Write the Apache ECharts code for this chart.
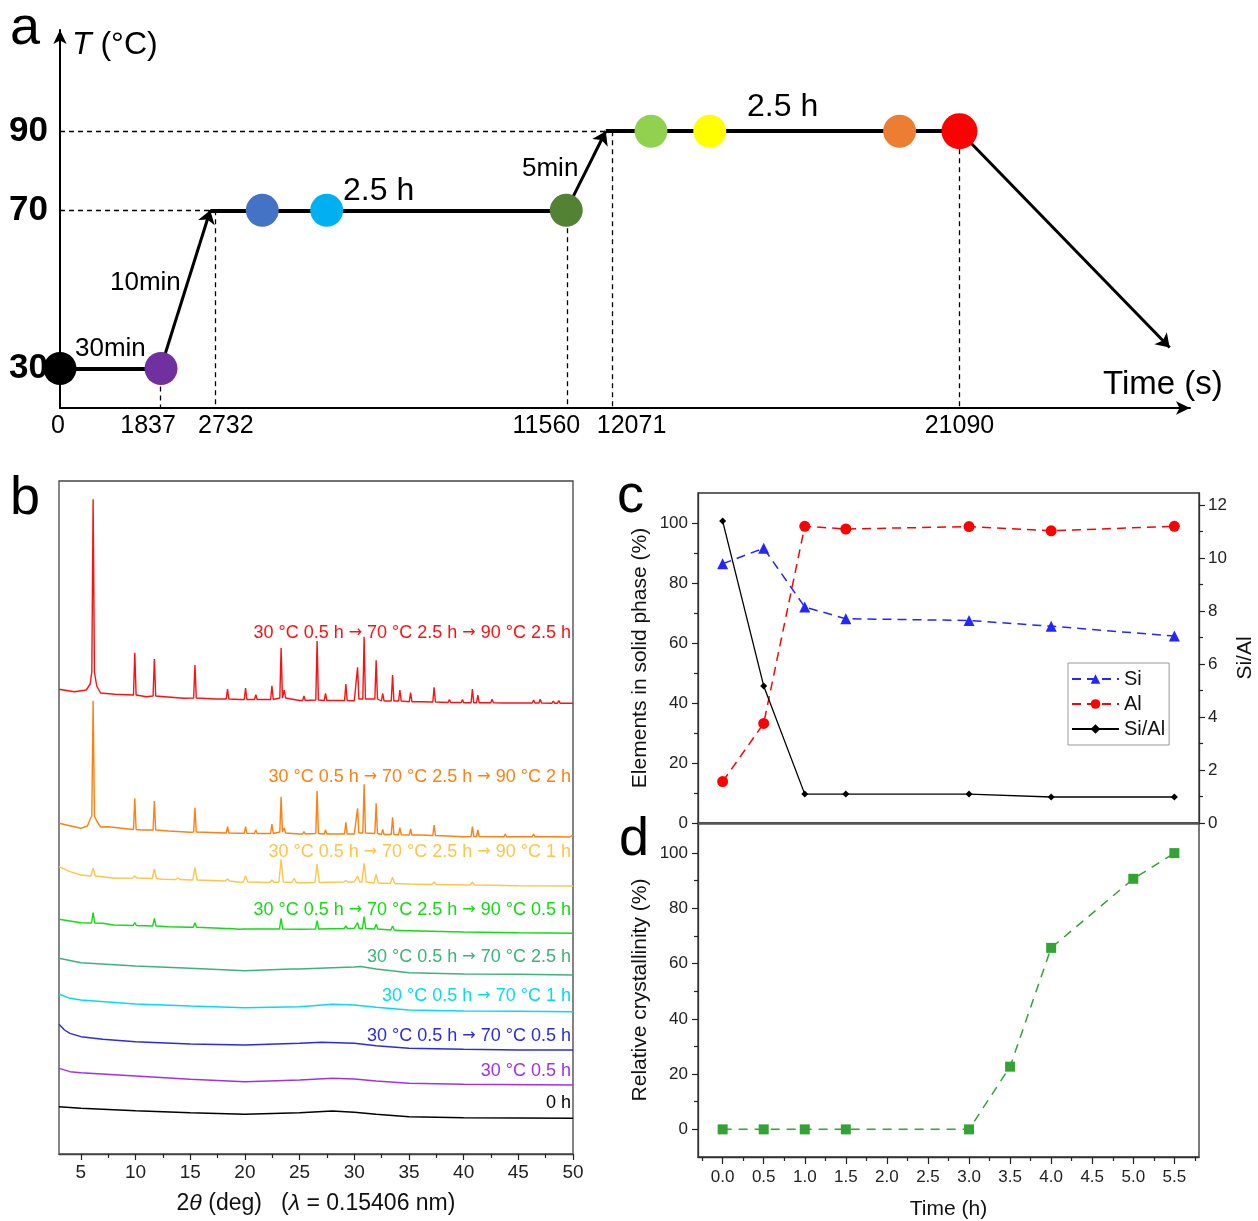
<!DOCTYPE html>
<html>
<head>
<meta charset="utf-8">
<title>Zeolite synthesis – temperature programme, XRD, composition, crystallinity</title>
<script src="https://cdn.jsdelivr.net/npm/echarts@6/dist/echarts.min.js"></script>
<style>
  html, body { margin: 0; padding: 0; background: #fff; }
  #chart { width: 1258px; height: 1221px; }
</style>
</head>
<body>
<div id="chart"></div>
<script>
// ---------- panel a: heating programme (time axis is drawn schematically, not to scale)
const timeTicks = [0, 1837, 2732, 11560, 12071, 21090];
const timeTickPos = [0, 8.9, 13.7, 44.9, 48.9, 79.6];
const timeTickTemp = [30, 30, 70, 70, 90, 90];
const tempLevels = [30, 70, 90];
const profile = [[0, 30], [8.9, 30], [13.3, 70], [44.8, 70], [48.3, 90], [79.6, 90], [98.2, 35.3]];
const sampleColors = ['#000000', '#7030A0', '#4472C4', '#00B0F0', '#548235', '#92D050', '#FFFF00', '#ED7D31', '#FF0000'];
const samplePos = [0, 8.94, 17.9, 23.6, 44.8, 52.3, 57.5, 74.3, 79.6];
const sampleTemp = [30, 30, 70, 70, 70, 90, 90, 90, 90];

// ---------- panel b: XRD patterns, [2theta, intensity a.u.] (stacked with offsets)
// peaks are [2theta, top, foot]
const redBase = [[3, 464.7], [4.4, 462.3], [5.5, 464], [5.85, 470], [6.45, 468], [6.8, 461], [8.1, 459.7], [11, 457.3], [14.4, 455.7], [17.4, 455], [19.5, 454.5], [23.8, 454.5], [25, 453.5], [30, 453.3], [36, 452.3], [40, 451.3], [45, 451], [50, 450.7]];
const redPeaks = [[6.12, 654.7, 482], [9.93, 501.3, 459], [11.72, 495, 458], [15.43, 489, 456], [18.41, 465, 455], [20.06, 466, 454.5], [21.0, 459.3, 454.5], [22.47, 468.3, 454.5], [23.31, 506, 456], [23.6, 464, 456], [25.4, 458, 453.5], [26.6, 513, 454], [27.37, 460.7, 453.5], [29.23, 470, 453.5], [30.3, 486.7, 455], [30.9, 517.3, 455], [32.0, 493.7, 455], [32.6, 460.7, 453], [33.5, 479, 453], [34.17, 464, 453], [35.15, 461.3, 452.3], [37.3, 466.7, 452], [38.7, 454.5, 451.5], [39.9, 454.5, 451.5], [40.8, 465, 451.3], [41.3, 459, 451.3], [42.6, 454.7, 451.2], [43.8, 453, 451], [46.4, 454, 451], [47.0, 454.7, 451], [48.2, 453, 450.8], [48.7, 453.3, 450.8]];
const orangeBase = [[3, 330.7], [5, 325.7], [5.6, 328], [5.85, 335], [6.45, 333], [6.8, 327], [7.5, 327.3], [10.6, 324], [13, 323], [15, 321.7], [19.5, 320.7], [25, 320], [30, 320], [36, 319], [40, 317.3], [49.7, 317], [50, 319]];
const orangePeaks = [[6.12, 453.3, 338], [9.93, 355.7, 324.5], [11.72, 353, 324], [15.43, 346.3, 322], [18.41, 327.3, 321], [20.06, 327.3, 320.7], [21.0, 324, 320.5], [22.47, 330, 320.5], [23.31, 357.3, 322], [23.6, 326, 321], [25.4, 322.3, 320], [26.6, 363, 320.5], [27.37, 324, 320], [29.23, 331.7, 320], [30.3, 345.7, 321], [30.9, 369.7, 321], [32.0, 350.7, 320.5], [32.6, 324.7, 319.5], [33.5, 336.7, 319.5], [34.17, 326.3, 319.3], [35.15, 325, 319], [37.3, 329, 318.5], [40.8, 327.3, 317.5], [41.3, 324, 317.5], [43.8, 320, 317.3], [46.4, 320, 317.3], [48.2, 319, 317.3]];
const yellowBase = [[3, 287.3], [4, 282.3], [5, 279], [7, 277.3], [8, 275.7], [12.4, 274.7], [15, 274], [19.5, 271.7], [25, 271.3], [30, 272], [35, 270], [40, 269], [45, 268.3], [50, 268]];
const yellowPeaks = [[6.12, 285.7, 278], [9.93, 278, 276], [11.72, 285, 275.5], [13.86, 276, 274.5], [15.43, 286.3, 274], [18.41, 275, 273], [20.06, 278, 272], [22.47, 274, 271.5], [23.31, 294.7, 272], [24.5, 275.7, 271.5], [26.6, 290, 271.5], [29.23, 273.5, 272], [30.3, 278, 272], [30.9, 290.7, 272], [32.0, 279.7, 271], [33.5, 276.7, 270.5], [37.3, 272, 269.5], [40.8, 272, 269]];
const greenBase = [[3, 234.7], [5, 231.3], [7, 230.7], [8, 229], [10.2, 228.3], [13, 227.3], [15, 226.7], [19.5, 224.7], [25, 224.7], [30, 225.7], [35, 223.3], [40, 222], [45, 221.3], [50, 220.7]];
const greenPeaks = [[6.12, 241.3, 231], [9.93, 231.3, 228.5], [11.72, 235.7, 228], [15.43, 231.3, 226.7], [18.41, 227, 225.5], [20.06, 227, 225], [22.47, 226.5, 225], [23.31, 235.7, 225], [26.6, 233.3, 225], [29.23, 228, 225.5], [30.3, 231.3, 225.5], [30.9, 237.3, 225.5], [32.0, 229.7, 225], [33.5, 228, 224], [34.17, 225, 223.5]];
const tealPattern = [[3, 195.7], [5, 191.3], [10, 188], [15, 185.7], [20, 183.3], [24.2, 185], [25, 185], [28, 186.3], [30, 187], [30.6, 187.5], [32, 185], [35, 181.3], [40, 180], [45, 179.7], [50, 179]];
const cyanPattern = [[3, 160], [4, 155.7], [5, 154], [10, 150], [15, 148], [20, 146.3], [25, 147.3], [28, 149.7], [30, 149], [32, 146.7], [35, 144], [40, 143], [45, 142.7], [50, 142.3]];
const bluePattern = [[3, 129.7], [3.5, 124], [4, 120.7], [5, 117.3], [7, 114.7], [10, 112.3], [15, 110], [20, 109], [25, 110.7], [27, 111.7], [30, 110.7], [32, 108.3], [35, 105.7], [40, 104.7], [45, 104], [50, 104]];
const purplePattern = [[3, 85.7], [4, 82.3], [5, 81.3], [10, 78], [15, 74.7], [20, 72.3], [25, 74], [28, 75.7], [30, 75], [32, 73], [35, 70.7], [40, 69.7], [50, 69]];
const blackPattern = [[3, 47.3], [5, 45.7], [10, 43.3], [15, 41.3], [20, 39.7], [25, 41.3], [28, 43], [30, 41.7], [32, 39.7], [35, 37.3], [40, 36.3], [50, 35.7]];
const xrdLabels = ['0 h', '30 °C 0.5 h', '30 °C 0.5 h → 70 °C 0.5 h', '30 °C 0.5 h → 70 °C 1 h', '30 °C 0.5 h → 70 °C 2.5 h',
  '30 °C 0.5 h → 70 °C 2.5 h → 90 °C 0.5 h', '30 °C 0.5 h → 70 °C 2.5 h → 90 °C 1 h', '30 °C 0.5 h → 70 °C 2.5 h → 90 °C 2 h', '30 °C 0.5 h → 70 °C 2.5 h → 90 °C 2.5 h'];
const xrdColors = ['#000000', '#A030F0', '#2A2AE8', '#00DDEE', '#3DB37A', '#11DD11', '#FFC44A', '#FF8010', '#FF1010'];
const twoThetaTicks = [5, 10, 15, 20, 25, 30, 35, 40, 45, 50];

// ---------- panels c, d
const compTime = [0, 0.5, 1, 1.5, 3, 4, 5.5];
const siPct = [86.4, 91.6, 72.0, 68.1, 67.5, 65.6, 62.3];
const alPct = [13.8, 33.2, 98.9, 98.0, 98.8, 97.4, 98.9];
const siAlRatio = [11.39, 5.17, 1.09, 1.09, 1.09, 0.98, 0.98];
const crystTime = [0, 0.5, 1, 1.5, 3, 3.5, 4, 5, 5.5];
const crystPct = [0, 0, 0, 0, 0, 22.7, 65.7, 90.7, 100];
const hourTicks = [0, 0.5, 1, 1.5, 2, 2.5, 3, 3.5, 4, 4.5, 5, 5.5];

const FONT = "'Liberation Sans', Arial, sans-serif";
const chart = echarts.init(document.getElementById('chart'));

function xrdCurve(base, peaks, hw) {
  const pts = base.slice();
  peaks.forEach(([p, top, foot]) => { pts.push([p - hw, foot], [p, top], [p + hw, foot]); });
  return pts.sort((a, b) => a[0] - b[0]);
}
const xrdData = [blackPattern, purplePattern, bluePattern, cyanPattern, tealPattern,
  xrdCurve(greenBase, greenPeaks, 0.15), xrdCurve(yellowBase, yellowPeaks, 0.2),
  xrdCurve(orangeBase, orangePeaks, 0.12), xrdCurve(redBase, redPeaks, 0.12)];
const xrdLabelY = [1103, 1071, 1036, 996, 957, 910, 852, 777, 633];

const pairs = (pts) => pts.slice(1).map((p, i) => ({ coords: [pts[i], p] }));
const holdSegs = [pairs(profile)[0], pairs(profile)[2], pairs(profile)[4]];
const rampSegs = [pairs(profile)[1], pairs(profile)[3], pairs(profile)[5]];
const guideSegs = [
  { coords: [[0, 70], profile[2]] },
  { coords: [[0, 90], profile[4]] },
  ...timeTickPos.slice(1).map((x, i) => ({ coords: [[x, timeTickTemp[i + 1]], [x, 20]] }))
];

const tickLabelPad = [[0, 4, 0, 0], [0, 25, 0, 0], [0, 0, 0, 22], [0, 42, 0, 0], [0, 0, 0, 38], [0, 0, 0, 0]];
const aRich = {};
tickLabelPad.forEach((p, i) => { aRich['t' + i] = { padding: p, fontSize: 25, color: '#000', fontFamily: FONT }; });

const minorOf = (arr) => arr.slice(1).map((v, i) => (v + arr[i]) / 2);
function tickAxis(extra) {
  return Object.assign({
    type: 'value', axisLine: { show: false, onZero: false }, axisLabel: { show: false }, splitLine: { show: false }
  }, extra);
}
const tickStyle = { color: '#222', width: 1.2 };
const lblStyle = { fontSize: 17, color: '#222', fontFamily: FONT };
const nameStyle = { fontSize: 21, color: '#111', fontFamily: FONT };
const frameLine = { show: true, onZero: false, lineStyle: { color: '#333', width: 1.3 } };
const arrowRich = { a: { fontFamily: "'DejaVu Sans', sans-serif", fontSize: 16 } };

const option = {
  animation: false,
  textStyle: { fontFamily: FONT },
  grid: [
    { left: 60, top: 30, width: 1130, height: 378 },
    { left: 59, top: 481, width: 514, height: 673, show: true, borderColor: '#444', borderWidth: 1.3 },
    { left: 698, top: 493, width: 501, height: 330, show: true, borderColor: '#333', borderWidth: 1.3 },
    { left: 698, top: 823, width: 501, height: 334, show: true, borderColor: '#333', borderWidth: 1.3 }
  ],
  xAxis: [
    {
      gridIndex: 0, type: 'value', position: 'bottom', min: 0, max: 100,
      axisLine: { onZero: false, symbol: ['none', 'arrow'], symbolSize: [10, 14], lineStyle: { color: '#000', width: 2 } },
      axisTick: { show: false }, splitLine: { show: false },
      axisLabel: {
        customValues: timeTickPos, margin: 6,
        formatter: (v) => { const i = timeTickPos.indexOf(v); return '{t' + i + '|' + timeTicks[i] + '}'; },
        rich: aRich
      }
    },
    {
      gridIndex: 1, type: 'value', position: 'bottom', min: 3, max: 50,
      axisLine: { show: true, onZero: false, lineStyle: { color: '#444', width: 1.3 } }, splitLine: { show: false },
      axisTick: { customValues: twoThetaTicks, length: 6, lineStyle: tickStyle },
      axisLabel: { customValues: twoThetaTicks, fontSize: 19, color: '#222', margin: 9 },
      name: '2{i|θ} (deg)   ({i|λ} = 0.15406 nm)', nameLocation: 'middle', nameGap: 38,
      nameTextStyle: { fontSize: 23, color: '#111', rich: { i: { fontStyle: 'italic', fontSize: 23 } } }
    },
    tickAxis({ gridIndex: 1, position: 'bottom', min: 3, max: 50, axisTick: { customValues: minorOf(twoThetaTicks), length: 4, lineStyle: tickStyle } }),
    {
      gridIndex: 2, type: 'value', position: 'bottom', min: -0.3, max: 5.8,
      axisLine: { onZero: false, lineStyle: { color: '#555', width: 2.5 } },
      axisTick: { show: false }, axisLabel: { show: false }, splitLine: { show: false }
    },
    {
      gridIndex: 3, type: 'value', position: 'bottom', min: -0.3, max: 5.8,
      axisLine: frameLine, splitLine: { show: false },
      axisTick: { customValues: hourTicks, length: 7, lineStyle: tickStyle },
      axisLabel: Object.assign({ customValues: hourTicks, margin: 12, formatter: (v) => v.toFixed(1) }, lblStyle),
      name: 'Time (h)', nameLocation: 'middle', nameGap: 42, nameTextStyle: nameStyle
    },
    tickAxis({ gridIndex: 3, position: 'bottom', min: -0.3, max: 5.8, axisTick: { customValues: [-0.25].concat(minorOf(hourTicks), [5.75]), length: 4, lineStyle: tickStyle } })
  ],
  yAxis: [
    {
      gridIndex: 0, type: 'value', position: 'left', min: 20, max: 115.6,
      axisLine: { onZero: false, symbol: ['none', 'arrow'], symbolSize: [10, 14], lineStyle: { color: '#000', width: 2 } },
      axisTick: { show: false }, splitLine: { show: false },
      axisLabel: {
        customValues: tempLevels, margin: 12, padding: [10, 0, 0, 0],
        fontSize: 35, fontWeight: 'bold', color: '#000', fontFamily: "'Liberation Sans Narrow', 'Liberation Sans', Arial"
      }
    },
    { gridIndex: 1, type: 'value', position: 'left', min: 0, max: 673, show: false },
    {
      gridIndex: 2, type: 'value', position: 'left', min: 0, max: 110,
      axisLine: frameLine, splitLine: { show: false },
      axisTick: { customValues: [0, 20, 40, 60, 80, 100], length: 6, lineStyle: tickStyle },
      axisLabel: Object.assign({ customValues: [0, 20, 40, 60, 80, 100], margin: 10 }, lblStyle),
      name: 'Elements in solid phase (%)', nameLocation: 'middle', nameGap: 47, nameTextStyle: nameStyle
    },
    tickAxis({ gridIndex: 2, position: 'left', min: 0, max: 110, axisTick: { customValues: [10, 30, 50, 70, 90], length: 4, lineStyle: tickStyle } }),
    {
      gridIndex: 2, type: 'value', position: 'right', min: 0, max: 12.45,
      axisLine: frameLine, splitLine: { show: false },
      axisTick: { customValues: [0, 2, 4, 6, 8, 10, 12], length: 6, lineStyle: tickStyle },
      axisLabel: Object.assign({ customValues: [0, 2, 4, 6, 8, 10, 12], margin: 9 }, lblStyle),
      name: 'Si/Al', nameLocation: 'middle', nameGap: 36, nameTextStyle: nameStyle
    },
    tickAxis({ gridIndex: 2, position: 'right', min: 0, max: 12.45, axisTick: { customValues: [1, 3, 5, 7, 9, 11], length: 4, lineStyle: tickStyle } }),
    {
      gridIndex: 3, type: 'value', position: 'left', min: -10, max: 110.9,
      axisLine: frameLine, splitLine: { show: false },
      axisTick: { customValues: [0, 20, 40, 60, 80, 100], length: 6, lineStyle: tickStyle },
      axisLabel: Object.assign({ customValues: [0, 20, 40, 60, 80, 100], margin: 10 }, lblStyle),
      name: 'Relative crystallinity (%)', nameLocation: 'middle', nameGap: 47, nameTextStyle: nameStyle
    },
    tickAxis({ gridIndex: 3, position: 'left', min: -10, max: 110.9, axisTick: { customValues: [10, 30, 50, 70, 90], length: 4, lineStyle: tickStyle } })
  ],
  legend: {
    data: ['Si', 'Al', 'Si/Al'], orient: 'vertical', left: 1068, top: 663,
    itemWidth: 47, itemHeight: 12, itemGap: 5, padding: [6, 4, 6, 3],
    borderColor: '#999', borderWidth: 1, textStyle: { fontSize: 20, color: '#111' }
  },
  series: [
    // panel a
    {
      type: 'lines', coordinateSystem: 'cartesian2d', xAxisIndex: 0, yAxisIndex: 0, silent: true,
      data: guideSegs, lineStyle: { color: '#000', width: 1.3, type: [5, 4], opacity: 1 }, z: 1
    },
    {
      type: 'lines', coordinateSystem: 'cartesian2d', xAxisIndex: 0, yAxisIndex: 0, silent: true,
      data: holdSegs, lineStyle: { color: '#000', width: 4, opacity: 1 }, z: 2
    },
    {
      type: 'lines', coordinateSystem: 'cartesian2d', xAxisIndex: 0, yAxisIndex: 0, silent: true,
      data: rampSegs, symbol: ['none', 'arrow'], symbolSize: 13, lineStyle: { color: '#000', width: 3, opacity: 1 }, z: 2
    },
    {
      type: 'scatter', xAxisIndex: 0, yAxisIndex: 0, silent: true, z: 3,
      symbolSize: (v, p) => (p.dataIndex === sampleColors.length - 1 ? 36 : 33),
      data: samplePos.map((x, i) => ({ value: [x, sampleTemp[i]], itemStyle: { color: sampleColors[i], opacity: 1 } }))
    },
    // panel b
    ...xrdData.map((d, i) => ({
      name: xrdLabels[i], type: 'line', xAxisIndex: 1, yAxisIndex: 1, data: d,
      showSymbol: false, silent: true, lineStyle: { color: xrdColors[i], width: 1.4 }, z: 2
    })),
    // panel c
    {
      name: 'Si', type: 'line', xAxisIndex: 3, yAxisIndex: 2, data: compTime.map((t, i) => [t, siPct[i]]),
      symbol: 'triangle', symbolSize: 11, itemStyle: { color: '#2525FF' },
      lineStyle: { color: '#2525FF', width: 1.5, type: [9, 6] }
    },
    {
      name: 'Al', type: 'line', xAxisIndex: 3, yAxisIndex: 2, data: compTime.map((t, i) => [t, alPct[i]]),
      symbol: 'circle', symbolSize: 11, itemStyle: { color: '#FF0000' },
      lineStyle: { color: '#FF0000', width: 1.5, type: [9, 6] }
    },
    {
      name: 'Si/Al', type: 'line', xAxisIndex: 3, yAxisIndex: 4, data: compTime.map((t, i) => [t, siAlRatio[i]]),
      symbol: 'diamond', symbolSize: 7, itemStyle: { color: '#000' },
      lineStyle: { color: '#000', width: 1.3 }
    },
    // panel d
    {
      name: 'Relative crystallinity', type: 'line', xAxisIndex: 4, yAxisIndex: 6,
      data: crystTime.map((t, i) => [t, crystPct[i]]),
      symbol: 'rect', symbolSize: 10, itemStyle: { color: '#33A333' },
      lineStyle: { color: '#33A333', width: 1.5, type: [9, 7] }
    }
  ],
  graphic: [
    { type: 'text', style: { text: 'a', x: 10, y: 29, font: '54px ' + FONT, fill: '#000', textVerticalAlign: 'middle' } },
    { type: 'text', style: { text: 'b', x: 10, y: 499, font: '54px ' + FONT, fill: '#000', textVerticalAlign: 'middle' } },
    { type: 'text', style: { text: 'c', x: 617, y: 497, font: '54px ' + FONT, fill: '#000', textVerticalAlign: 'middle' } },
    { type: 'text', style: { text: 'd', x: 619, y: 840, font: '54px ' + FONT, fill: '#000', textVerticalAlign: 'middle' } },
    {
      type: 'text', style: {
        text: '{i|T} (°C)', x: 72, y: 45, font: '32px ' + FONT, fill: '#000', textVerticalAlign: 'middle',
        rich: { i: { fontStyle: 'italic', fontSize: 32, fontFamily: FONT } }
      }
    },
    { type: 'text', style: { text: 'Time (s)', x: 1103, y: 385, font: '33px ' + FONT, fill: '#000', textVerticalAlign: 'middle' } },
    { type: 'text', style: { text: '30min', x: 75, y: 349, font: '26px ' + FONT, fill: '#000', textVerticalAlign: 'middle' } },
    { type: 'text', style: { text: '10min', x: 110, y: 283, font: '26px ' + FONT, fill: '#000', textVerticalAlign: 'middle' } },
    { type: 'text', style: { text: '2.5 h', x: 343, y: 191, font: '32px ' + FONT, fill: '#000', textVerticalAlign: 'middle' } },
    { type: 'text', style: { text: '5min', x: 522, y: 169, font: '26px ' + FONT, fill: '#000', textVerticalAlign: 'middle' } },
    { type: 'text', style: { text: '2.5 h', x: 747, y: 107, font: '32px ' + FONT, fill: '#000', textVerticalAlign: 'middle' } },
    ...xrdLabels.map((t, i) => ({
      type: 'text', z: 10,
      style: {
        text: t.replace(/→/g, '{a|→}'), x: 571, y: xrdLabelY[i], font: '18px ' + FONT, fill: xrdColors[i],
        textAlign: 'right', textVerticalAlign: 'middle', rich: arrowRich
      }
    }))
  ]
};

chart.setOption(option);
window.addEventListener('resize', () => chart.resize());
</script>
</body>
</html>
